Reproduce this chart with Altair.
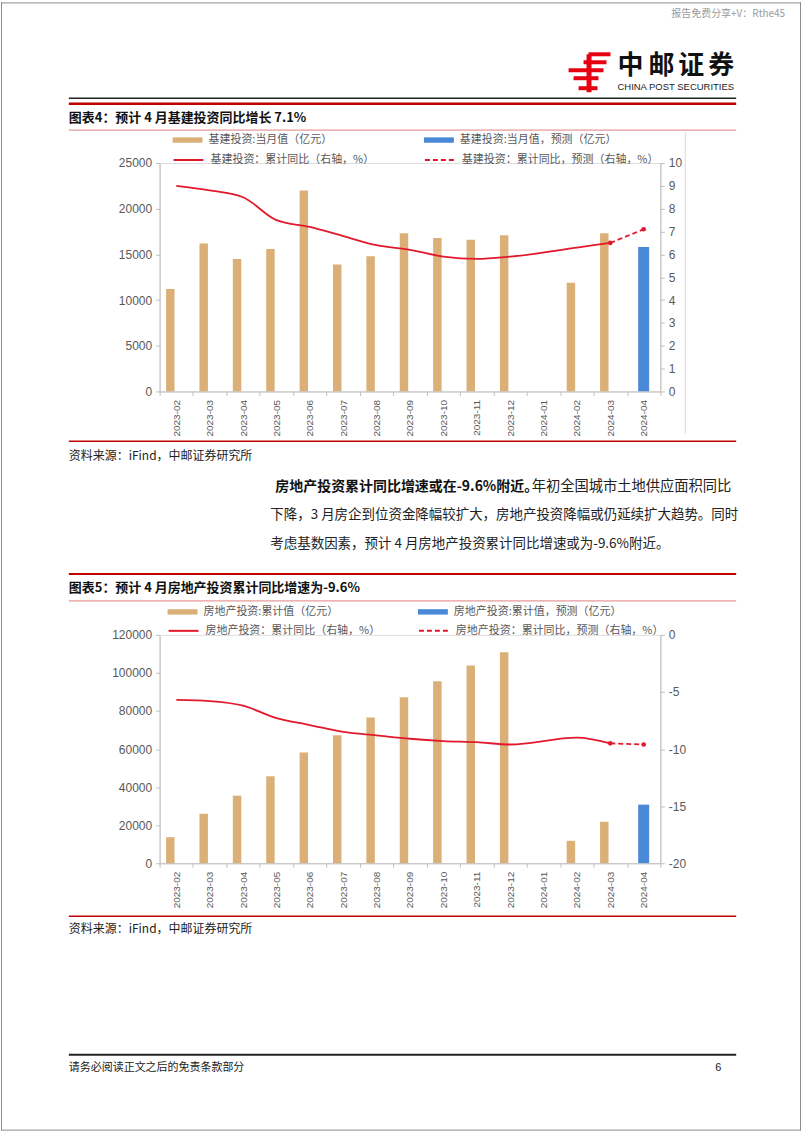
import altair as alt
import pandas as pd

CJK = "Noto Sans CJK SC"
NUM = "Liberation Sans"
TAN = "#DBB078"
BLUE = "#4A88D8"
RED = "#E2192C"
AXC = "#BFBFBF"
LAB = "#595959"
DARKRED = "#C00000"

# ---------------- data ----------------
months = ["2023-02", "2023-03", "2023-04", "2023-05", "2023-06", "2023-07", "2023-08",
          "2023-09", "2023-10", "2023-11", "2023-12", "2024-01", "2024-02", "2024-03", "2024-04"]

obs_months = ["2023-02", "2023-03", "2023-04", "2023-05", "2023-06", "2023-07", "2023-08",
              "2023-09", "2023-10", "2023-11", "2023-12", "2024-02", "2024-03"]
fc_bar_month = ["2024-04"]
fc_line_months = ["2024-03", "2024-04"]

# chart 4 : infrastructure investment
infra_value = [11200, 16200, 14500, 15600, 22000, 13900, 14800, 17300, 16800, 16600, 17100, 11900, 17300]
infra_fc_value = [15800]
infra_yoy = [9.0, 8.8, 8.5, 7.5, 7.2, 6.8, 6.4, 6.2, 5.9, 5.8, 5.9, 6.3, 6.5]
infra_yoy_fc = [6.5, 7.1]
infra_names = ["基建投资:当月值（亿元）", "基建投资:当月值，预测（亿元）",
               "基建投资：累计同比（右轴，%）", "基建投资：累计同比，预测（右轴，%）"]

# chart 5 : real estate investment
re_value = [13700, 26000, 35500, 45700, 58200, 67300, 76600, 87200, 95600, 103900, 110900, 11800, 21800]
re_fc_value = [30800]
re_yoy = [-5.7, -5.8, -6.2, -7.3, -7.9, -8.5, -8.8, -9.1, -9.3, -9.4, -9.6, -9.0, -9.5]
re_yoy_fc = [-9.5, -9.6]
re_names = ["房地产投资:累计值（亿元）", "房地产投资:累计值，预测（亿元）",
            "房地产投资：累计同比（右轴，%）", "房地产投资：累计同比，预测（右轴，%）"]

# ---------------- layout ----------------
OX, OY = 159, 161          # page position of chart-1 plot origin
PW, PH = 502, 229          # plot size
GAP = 244                  # vertical gap between plot areas

one = alt.Chart(pd.DataFrame({"k": [0]}))


def txt(x, y, s, size=12, weight="normal", color="#222222", align="left", font=CJK):
    return one.mark_text(text=s, fontSize=size, fontWeight=weight, color=color, align=align,
                         baseline="middle", font=font).encode(x=alt.value(x - OX), y=alt.value(y - OY))


def hrule(x1, x2, y, color, w):
    return one.mark_rule(color=color, strokeWidth=w).encode(
        x=alt.value(x1 - OX), x2=alt.value(x2 - OX), y=alt.value(y - OY))


def vrule(x, y1, y2, color, w):
    return one.mark_rule(color=color, strokeWidth=w).encode(
        x=alt.value(x - OX), y=alt.value(y1 - OY), y2=alt.value(y2 - OY))


def box(x1, y1, x2, y2, color, opacity=1.0):
    return one.mark_rect(color=color, opacity=opacity).encode(
        x=alt.value(x1 - OX), x2=alt.value(x2 - OX), y=alt.value(y1 - OY), y2=alt.value(y2 - OY))


def legend(x, y, stype, **extra):
    kw = dict(title=None, orient="none", legendX=x, legendY=y, symbolType=stype, symbolSize=900,
              labelFont=CJK, labelFontSize=11, labelColor=LAB, labelOffset=6, padding=0, labelLimit=500)
    kw.update(extra)
    return alt.Legend(**kw)


def xenc():
    return alt.X("m:N", sort=months,
                 scale=alt.Scale(domain=months, paddingInner=0, paddingOuter=0),
                 axis=alt.Axis(title=None, labelAngle=-90, tickBand="extent", tickSize=4,
                               domainColor=AXC, tickColor=AXC, labelColor=LAB, labelFont=NUM,
                               labelFontSize=10, labelPadding=4, zindex=1))


def yaxis(vals, orient):
    return alt.Axis(title=None, values=vals, orient=orient, grid=False, tickSize=4,
                    domainColor=AXC, tickColor=AXC, labelColor=LAB, labelFont=NUM,
                    labelFontSize=12, labelPadding=4, labelExpr="'' + datum.value", zindex=1)


def panel(vals, fc_vals, yoy, yoy_fc, names, ldom, lticks, rdom, rticks, lx1, lx2, ly1, ly2):
    bars_df = pd.DataFrame({"m": obs_months, "v": vals, "s": names[0]})
    fcb_df = pd.DataFrame({"m": fc_bar_month, "v": fc_vals, "s": names[1]})
    line_df = pd.DataFrame({"m": obs_months, "r": yoy, "s": names[2]})
    fcl_df = pd.DataFrame({"m": fc_line_months, "r": yoy_fc, "s": names[3]})
    lscale = alt.Scale(domain=ldom, nice=False, zero=False)
    rscale = alt.Scale(domain=rdom, nice=False, zero=False)

    bars = alt.Chart(bars_df).mark_bar(size=8.5, xOffset=-6).encode(
        x=xenc(),
        y=alt.Y("v:Q", scale=lscale, axis=yaxis(lticks, "left")),
        color=alt.Color("s:N", scale=alt.Scale(domain=[names[0]], range=[TAN]),
                        legend=legend(lx1, ly1, "M-1,-0.18L1,-0.18L1,0.18L-1,0.18Z", symbolStrokeWidth=0)))
    fcbar = alt.Chart(fcb_df).mark_bar(size=11).encode(
        x=xenc(),
        y=alt.Y("v:Q", scale=lscale, axis=None),
        fill=alt.Fill("s:N", scale=alt.Scale(domain=[names[1]], range=[BLUE]),
                      legend=legend(lx2, ly1, "M-1,-0.18L1,-0.18L1,0.18L-1,0.18Z", symbolStrokeWidth=0)))
    line = alt.Chart(line_df).mark_line(interpolate="monotone", strokeWidth=1.8).encode(
        x=xenc(),
        y=alt.Y("r:Q", scale=rscale, axis=yaxis(rticks, "right")),
        stroke=alt.Stroke("s:N", scale=alt.Scale(domain=[names[2]], range=[RED]),
                          legend=legend(lx1, ly2, "stroke", symbolStrokeWidth=2)))
    fcline = alt.Chart(fcl_df).mark_line(strokeWidth=1.8, color=RED).encode(
        x=xenc(),
        y=alt.Y("r:Q", scale=rscale, axis=None),
        strokeDash=alt.StrokeDash("s:N", scale=alt.Scale(domain=[names[3]], range=[[5, 3]]),
                                  legend=legend(lx2, ly2, "stroke", symbolStrokeWidth=2,
                                                symbolStrokeColor=RED)))
    pts = alt.Chart(fcl_df).mark_point(filled=True, size=22, color=RED, opacity=1).encode(
        x=xenc(), y=alt.Y("r:Q", scale=rscale, axis=None))
    return [bars, fcbar, line, fcline, pts]


# ---------------- page decorations (drawn with chart 1) ----------------
deco = [
    # invisible page box (defines the page extent)
    box(0, 0, 802, 1133, "white", 0.0),
    hrule(0, 802, 0.5, "#8C8C8C", 1),
    hrule(0, 802, 1130.5, "#8C8C8C", 1),
    vrule(0.5, 0, 1131, "#8C8C8C", 1),
    vrule(801.5, 0, 1131, "#8C8C8C", 1),
    txt(786, 12, "报告免费分享+V：Rthe45", size=10, color="#9A9A9A", align="right"),
    # logo emblem
    box(589, 50, 611, 54, "#E60012"),
    box(584, 58, 607, 62, "#E60012"),
    box(569, 66, 604, 70, "#E60012"),
    box(574, 74, 599, 78, "#E60012"),
    box(587, 52, 592, 90, "#E60012"),
    box(579, 84, 598, 88, "#E60012"),
    txt(631, 64, "中", size=26, weight="bold", color="#111111", align="center"),
    txt(662, 64, "邮", size=26, weight="bold", color="#111111", align="center"),
    txt(692, 64, "证", size=26, weight="bold", color="#111111", align="center"),
    txt(722, 64, "券", size=26, weight="bold", color="#111111", align="center"),
    txt(618, 85, "CHINA POST SECURITIES", size=9.5, color="#222222", font=NUM),
    hrule(68, 737, 96, "#222222", 1.5),
    hrule(68, 737, 101.5, DARKRED, 2.5),
    txt(68, 116, "图表4：预计 4 月基建投资同比增长 7.1%", size=13, weight="bold", color="#111111"),
    hrule(68, 737, 128, "#E08080", 1),
    vrule(686, 130, 432, "#D9D9D9", 1),
    hrule(68, 737, 440, DARKRED, 1.5),
    txt(68, 455, "资料来源：iFind，中邮证券研究所", size=12, color="#222222"),
    txt(275, 486, "房地产投资累计同比增速或在-9.6%附近。", size=14, weight="bold", color="#111111"),
    txt(532, 486, "年初全国城市土地供应面积同比", size=14.3, color="#222222"),
    txt(270, 514, "下降，3 月房企到位资金降幅较扩大，房地产投资降幅或仍延续扩大趋势。同时",
        size=13.5, color="#222222"),
    txt(270, 543, "考虑基数因素，预计 4 月房地产投资累计同比增速或为-9.6%附近。", size=13.5, color="#222222"),
    hrule(68, 737, 573, DARKRED, 2),
    txt(68, 587, "图表5：预计 4 月房地产投资累计同比增速为-9.6%", size=13, weight="bold", color="#111111"),
    hrule(68, 737, 600, "#E08080", 1),
    hrule(68, 737, 916, DARKRED, 1.5),
    txt(68, 929, "资料来源：iFind，中邮证券研究所", size=12, color="#222222"),
    hrule(68, 737, 1055, "#222222", 2),
    txt(68, 1068, "请务必阅读正文之后的免责条款部分", size=11, color="#222222"),
    txt(716, 1068, "6", size=11, color="#222222", font=NUM),
]

c1_layers = panel(infra_value, infra_fc_value, infra_yoy, infra_yoy_fc, infra_names,
                  [0, 25000], [0, 5000, 10000, 15000, 20000, 25000],
                  [0, 10], [0, 1, 2, 3, 4, 5, 6, 7, 8, 9, 10],
                  13, 265, -38, -19)
c2_layers = panel(re_value, re_fc_value, re_yoy, re_yoy_fc, re_names,
                  [0, 120000], [0, 20000, 40000, 60000, 80000, 100000, 120000],
                  [-20, 0], [-20, -15, -10, -5, 0],
                  8, 259, -38, -20)

layer_res = dict(y="independent", color="independent", fill="independent",
                 stroke="independent", strokeDash="independent")
concat_res = dict(x="independent", **layer_res)

chart1 = alt.layer(*deco, *c1_layers).resolve_scale(**layer_res).properties(width=PW, height=PH)
chart2 = alt.layer(*c2_layers).resolve_scale(**layer_res).properties(width=PW, height=PH)

chart = alt.vconcat(chart1, chart2, spacing=GAP, bounds="flush").resolve_scale(**concat_res).properties(
    padding=0, autosize=alt.AutoSizeParams(type="pad")
).configure_view(stroke=None).configure(background="white")

chart.save("out.html", embed_options={"renderer": "svg", "actions": False})
